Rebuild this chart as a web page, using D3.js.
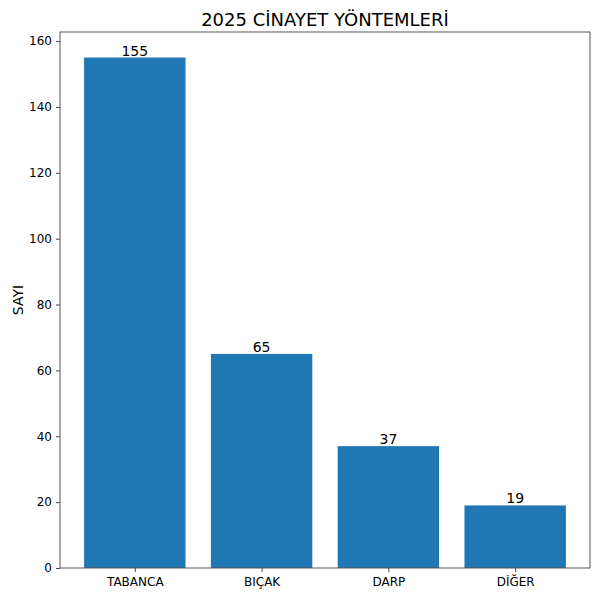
<!DOCTYPE html>
<html lang="tr">
<head>
    <meta charset="UTF-8">
    <title>2025 Cinayet Yöntemleri</title>
    <script src="https://d3js.org/d3.v7.min.js"></script>
    <style>
        body { margin: 0; background: #fff; }
        svg { font-family: "DejaVu Sans", sans-serif; }
    </style>
</head>
<body>
    <script>
        // Data
        const categories = ["TABANCA", "BIÇAK", "DARP", "DİĞER"];
        const counts = [155, 65, 37, 19];
        const yTicks = [0, 20, 40, 60, 80, 100, 120, 140, 160];

        const W = 600, H = 600;
        const margin = { top: 32, right: 10, bottom: 32, left: 60 };
        const width = W - margin.left - margin.right;
        const height = H - margin.top - margin.bottom;

        const svg = d3.select("body")
            .append("svg")
            .attr("width", W)
            .attr("height", H);

        const g = svg.append("g")
            .attr("transform", `translate(${margin.left},${margin.top})`);

        // matplotlib-like linear x: bars centred on integers, width 0.8, 5% margins
        const x = d3.scaleLinear()
            .domain([-0.59, categories.length - 1 + 0.59])
            .range([0, width]);
        const barW = x(0.8) - x(0);

        const yMax = d3.max(counts) * 1.05;
        const y = d3.scaleLinear()
            .domain([0, yMax])
            .range([height, 0]);

        // Bars
        g.selectAll(".bar")
            .data(counts)
            .enter()
            .append("rect")
            .attr("class", "bar")
            .attr("x", (d, i) => x(i) - barW / 2)
            .attr("y", d => y(d))
            .attr("width", barW)
            .attr("height", d => height - y(d))
            .attr("fill", "#1f77b4");

        // Value labels
        g.selectAll(".val")
            .data(counts)
            .enter()
            .append("text")
            .attr("x", (d, i) => x(i))
            .attr("y", d => y(d) - 2)
            .attr("text-anchor", "middle")
            .attr("font-size", 14)
            .attr("fill", "#000")
            .text(d => d);

        // Axes
        const yAxis = g.append("g")
            .call(d3.axisLeft(y).tickValues(yTicks).tickSize(4).tickPadding(4));
        const xAxis = g.append("g")
            .attr("transform", `translate(0,${height})`)
            .call(d3.axisBottom(x)
                .tickValues(d3.range(categories.length))
                .tickFormat(i => categories[i])
                .tickSize(4).tickPadding(5));

        [yAxis, xAxis].forEach(a => {
            a.select(".domain").remove();
            a.selectAll("text").attr("font-size", 12).attr("fill", "#000")
                .attr("font-family", "DejaVu Sans, sans-serif");
            a.selectAll("line").attr("stroke", "#444");
        });

        // Frame
        g.append("rect")
            .attr("width", width)
            .attr("height", height)
            .attr("fill", "none")
            .attr("stroke", "#555")
            .attr("stroke-width", 1);

        // Y label
        g.append("text")
            .attr("transform", "rotate(-90)")
            .attr("x", -height / 2)
            .attr("y", -37)
            .attr("text-anchor", "middle")
            .attr("font-size", 14)
            .text("SAYI");

        // Title
        svg.append("text")
            .attr("x", margin.left + width / 2)
            .attr("y", 26)
            .attr("text-anchor", "middle")
            .attr("font-size", 18)
            .text("2025 CİNAYET YÖNTEMLERİ");
    </script>
</body>
</html>
